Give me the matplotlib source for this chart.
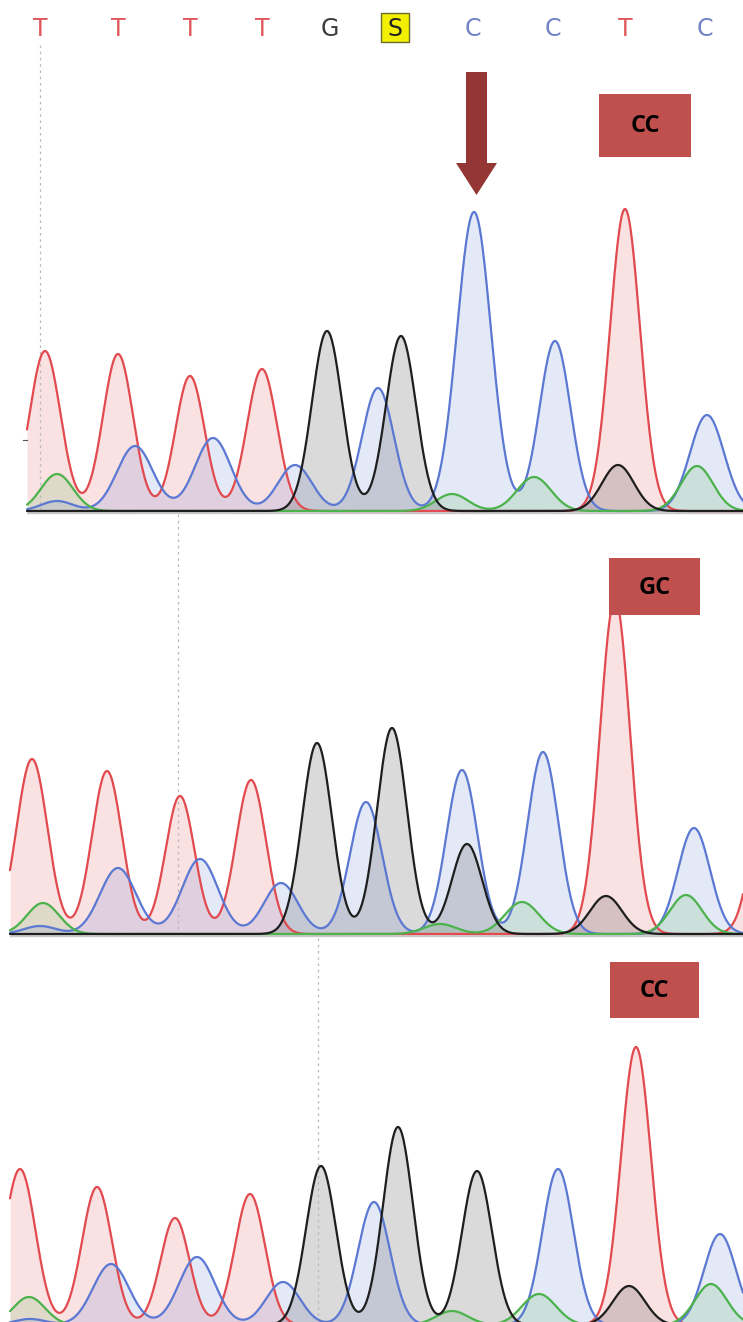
import numpy as np
import matplotlib
matplotlib.use("Agg")
from matplotlib import pyplot as plt
from matplotlib.patches import Rectangle, FancyArrow

# base calls along the top
bases = ["T", "T", "T", "T", "G", "S", "C", "C", "T", "C"]
base_x = [40, 118, 190, 262, 330, 395, 473, 553, 625, 705]

# peaks per panel: (centre, height, sigma) in pixel units
p1_T = [(45, 160, 15.5), (118, 157, 15), (190, 135, 14.5), (262, 142, 15), (625, 302, 15)]
p1_C = [(57, 10, 16), (135, 65, 18), (213, 73, 18), (295, 46, 17), (378, 123, 16),
        (474, 299, 17), (555, 170, 15.5), (707, 96, 17)]
p1_G = [(327, 180, 15), (401, 175, 15), (618, 46, 16)]
p1_A = [(57, 37, 16), (452, 17, 16), (534, 34, 17), (697, 45, 16)]

p2_T = [(32, 175, 15.5), (107, 163, 15), (180, 138, 14.5), (251, 154, 15), (615, 335, 15), (768, 160, 15)]
p2_C = [(40, 8, 16), (118, 66, 18), (200, 75, 18), (281, 51, 17), (366, 132, 16),
        (462, 164, 15.5), (543, 182, 15.5), (694, 106, 16)]
p2_G = [(317, 191, 15), (392, 206, 15), (467, 90, 15), (606, 38, 16)]
p2_A = [(43, 31, 16), (440, 10, 16), (522, 32, 17), (686, 39, 16)]

p3_T = [(20, 156, 15.5), (97, 138, 15), (175, 107, 14.5), (250, 131, 15), (636, 278, 15)]
p3_C = [(30, 6, 16), (111, 61, 18), (197, 68, 18), (283, 43, 17), (374, 123, 16),
        (558, 156, 15.5), (720, 91, 16)]
p3_G = [(321, 159, 15), (398, 198, 15), (477, 154, 15), (629, 39, 16)]
p3_A = [(29, 28, 16), (452, 14, 16), (539, 31, 17), (711, 41, 16)]

panels = [
    dict(base=512, x0=27, T=p1_T, C=p1_C, G=p1_G, A=p1_A),
    dict(base=935, x0=10, T=p2_T, C=p2_C, G=p2_G, A=p2_A),
    dict(base=1326, x0=10, T=p3_T, C=p3_C, G=p3_G, A=p3_A),
]

genotypes = ["CC", "GC", "CC"]
geno_box = [(599, 94, 92, 63), (609, 558, 91, 57), (610, 962, 89, 56)]

col = {"T": "#e14a4f", "C": "#5b78d2", "G": "#1e1e1e", "A": "#4cb24c"}
letter_col = {"T": "#e0585c", "C": "#6f82c8", "G": "#3a3a3a", "S": "#222222"}

W, H = 743, 1322
fig = plt.figure(figsize=(W / 100, H / 100), dpi=100)
ax = fig.add_axes([0, 0, 1, 1])
ax.set_xlim(0, W)
ax.set_ylim(H, 0)
ax.axis("off")


def trace(x, peaks):
    y = np.zeros_like(x)
    for c, h, s in peaks:
        y += h * np.exp(-(x - c) ** 2 / (2 * s * s))
    return y


# dashed guide lines
ax.plot([40, 40], [45, 512], color="#b8b8b8", lw=0.9, ls=(0, (2, 3)))
ax.plot([178, 178], [514, 930], color="#b8b8b8", lw=0.9, ls=(0, (2, 3)))
ax.plot([318, 318], [938, 1322], color="#b8b8b8", lw=0.9, ls=(0, (2, 3)))
ax.plot([23, 27], [440, 440], color="#555555", lw=0.8)

for p in panels:
    x = np.linspace(p["x0"], W, 1500)
    b = p["base"]
    ax.plot([p["x0"], W], [b + 1, b + 1], color="#c8c8c8", lw=1.0)
    for ch in ["T", "C", "A", "G"]:
        y = trace(x, p[ch]) + 1.0
        ax.fill_between(x, b, b - y, color=col[ch], alpha=0.16, lw=0)
    for ch in ["T", "C", "A", "G"]:
        y = trace(x, p[ch]) + 1.0
        ax.plot(x, b - y, color=col[ch], lw=1.6, solid_capstyle="round")

# base letters
for lt, bx in zip(bases, base_x):
    if lt == "S":
        ax.add_patch(Rectangle((381, 13), 28, 29, facecolor="#f2f000",
                               edgecolor="#6b6b30", lw=1.0, zorder=4))
    ax.text(bx, 29, lt, color=letter_col[lt], fontsize=17, ha="center", va="center",
            family=["Liberation Sans Narrow", "DejaVu Sans"], zorder=5)

# arrow at the SNP
ax.add_patch(FancyArrow(476.5, 72, 0, 123, width=21, head_width=41, head_length=32,
                        length_includes_head=True, color="#943634", lw=0, zorder=6))

# genotype boxes
for g, (bx, by, bw, bh) in zip(genotypes, geno_box):
    ax.add_patch(Rectangle((bx, by), bw, bh, facecolor="#c0504d", edgecolor="none", zorder=6))
    ax.text(bx + bw / 2, by + bh / 2 + 1, g, fontsize=17, fontweight="bold", color="black",
            ha="center", va="center", family=["Open Sans", "DejaVu Sans"], zorder=7)

plt.savefig("out.png", dpi=100)
